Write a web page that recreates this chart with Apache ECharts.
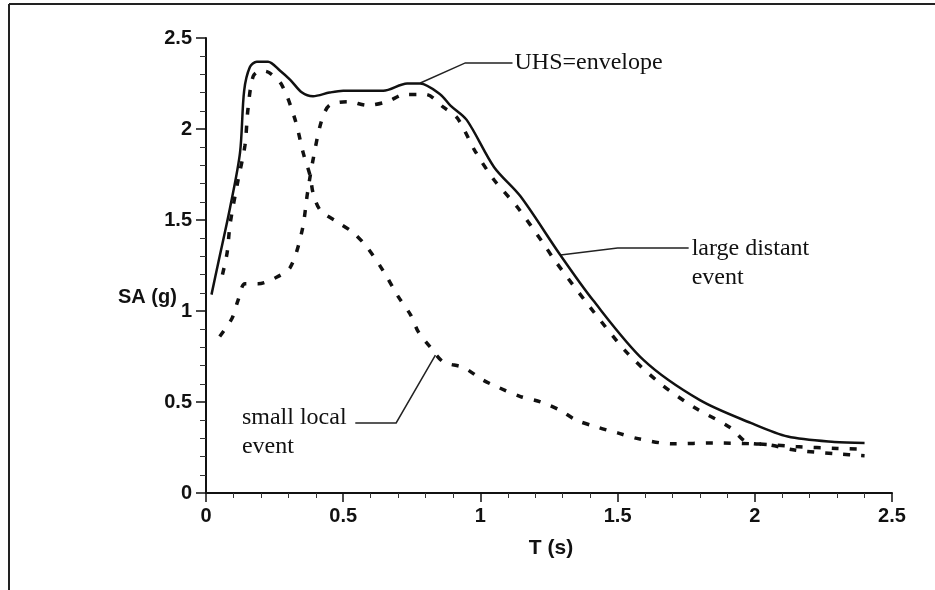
<!DOCTYPE html>
<html>
<head>
<meta charset="utf-8">
<title>UHS envelope</title>
<script src="https://cdn.jsdelivr.net/npm/echarts@6/dist/echarts.min.js"></script>
<style>
  html, body { margin: 0; padding: 0; background: #fff; }
  #chart { width: 935px; height: 590px; }
</style>
</head>
<body>
<div id="chart"></div>
<script>
// periods T (s) and spectral accelerations SA (g)
var uhsT = [0.02, 0.044, 0.088, 0.124, 0.139, 0.16, 0.185, 0.226, 0.27, 0.307, 0.35, 0.39, 0.45, 0.5, 0.573, 0.646, 0.733, 0.78, 0.854, 0.89, 0.95, 1.05, 1.146, 1.29, 1.41, 1.595, 1.8, 1.985, 2.12, 2.29, 2.4];
var uhsSA = [1.09, 1.26, 1.57, 1.87, 2.21, 2.34, 2.37, 2.37, 2.32, 2.27, 2.2, 2.18, 2.2, 2.21, 2.21, 2.21, 2.25, 2.25, 2.19, 2.13, 2.05, 1.79, 1.63, 1.31, 1.06, 0.73, 0.51, 0.385, 0.31, 0.28, 0.275];

var largeT = [0.05, 0.095, 0.117, 0.142, 0.19, 0.25, 0.307, 0.35, 0.37, 0.39, 0.42, 0.45, 0.52, 0.587, 0.66, 0.726, 0.8, 0.865, 0.916, 0.98, 1.05, 1.135, 1.23, 1.27, 1.4, 1.535, 1.657, 1.78, 1.91, 1.97, 2.05, 2.15, 2.3, 2.4];
var largeSA = [0.86, 0.96, 1.06, 1.15, 1.15, 1.18, 1.24, 1.44, 1.65, 1.83, 2.04, 2.13, 2.15, 2.13, 2.15, 2.19, 2.19, 2.12, 2.06, 1.88, 1.72, 1.57, 1.37, 1.28, 1.02, 0.77, 0.6, 0.47, 0.36, 0.28, 0.265, 0.235, 0.215, 0.205];

var smallT = [0.06, 0.077, 0.088, 0.117, 0.142, 0.153, 0.172, 0.2, 0.23, 0.277, 0.325, 0.354, 0.38, 0.39, 0.416, 0.478, 0.537, 0.587, 0.646, 0.7, 0.745, 0.774, 0.818, 0.865, 0.938, 1.01, 1.066, 1.146, 1.22, 1.29, 1.35, 1.43, 1.5, 1.57, 1.7, 1.85, 2.0, 2.15, 2.3, 2.4];
var smallSA = [1.2, 1.32, 1.48, 1.72, 1.91, 2.11, 2.29, 2.32, 2.31, 2.24, 2.05, 1.87, 1.74, 1.65, 1.555, 1.49, 1.43, 1.35, 1.22, 1.08, 0.98, 0.885, 0.8, 0.72, 0.69, 0.62, 0.58, 0.53, 0.5, 0.455, 0.4, 0.36, 0.33, 0.3, 0.27, 0.275, 0.27, 0.255, 0.245, 0.24];

// tick values on both axes
var tTicks = [0, 0.5, 1, 1.5, 2, 2.5];
var saTicks = [0, 0.5, 1, 1.5, 2, 2.5];

// annotation leaders, in data units (T, SA)
var uhsLeader = [[0.781, 2.253], [0.945, 2.363], [1.117, 2.363]];
var largeLeader = [[1.292, 1.308], [1.5, 1.346], [1.759, 1.346]];
var smallLeader = [[0.544, 0.385], [0.693, 0.385], [0.836, 0.758]];

function zip(xs, ys) {
  return xs.map(function (x, i) { return [x, ys[i]]; });
}

var chart = echarts.init(document.getElementById('chart'));

var numFont = {
  fontFamily: 'Liberation Sans, Arial, sans-serif',
  fontWeight: 'bold',
  fontSize: 20,
  color: '#111'
};

var option = {
  animation: false,
  backgroundColor: '#fff',
  grid: {
    left: 206,
    right: 43,
    top: 38,
    bottom: 97
  },
  xAxis: {
    type: 'value',
    min: tTicks[0],
    max: tTicks[tTicks.length - 1],
    interval: 0.5,
    axisLine: { show: true, onZero: false, lineStyle: { color: '#111', width: 2 } },
    axisTick: { show: true, inside: false, length: 9, lineStyle: { color: '#111', width: 1.5 } },
    minorTick: { show: true, splitNumber: 5, length: 5, lineStyle: { color: '#333', width: 1 } },
    splitLine: { show: false },
    axisLabel: Object.assign({ margin: 13, formatter: function (v) { return String(v); } }, numFont)
  },
  yAxis: {
    type: 'value',
    min: saTicks[0],
    max: saTicks[saTicks.length - 1],
    interval: 0.5,
    axisLine: { show: true, onZero: false, lineStyle: { color: '#111', width: 2 } },
    axisTick: { show: true, inside: false, length: 10, lineStyle: { color: '#111', width: 1.5 } },
    minorTick: { show: true, splitNumber: 5, length: 6, lineStyle: { color: '#333', width: 1 } },
    splitLine: { show: false },
    axisLabel: Object.assign({ margin: 14, formatter: function (v) { return String(v); } }, numFont)
  },
  series: [
    {
      name: 'UHS=envelope',
      type: 'line',
      data: zip(uhsT, uhsSA),
      smooth: 0.3,
      showSymbol: false,
      lineStyle: { color: '#111', width: 2.5 },
      z: 3
    },
    {
      name: 'large distant event',
      type: 'line',
      data: zip(largeT, largeSA),
      smooth: 0.3,
      showSymbol: false,
      lineStyle: { color: '#111', width: 3.5, type: [7, 11] }
    },
    {
      name: 'small local event',
      type: 'line',
      data: zip(smallT, smallSA),
      smooth: 0.3,
      showSymbol: false,
      lineStyle: { color: '#111', width: 3.5, type: [7, 11] }
    }
  ]
};

chart.setOption(option);

// 标注引线和文字
function toPx(pts) {
  return pts.map(function (p) { return chart.convertToPixel({ gridIndex: 0 }, p); });
}

var serif = 'Liberation Serif, Times New Roman, serif';

function leader(pts) {
  return {
    type: 'polyline',
    shape: { points: toPx(pts) },
    style: { stroke: '#222', lineWidth: 1.5, fill: null },
    silent: true
  };
}

function note(pt, text) {
  var p = chart.convertToPixel({ gridIndex: 0 }, pt);
  return {
    type: 'text',
    x: p[0] + 2,
    y: p[1],
    style: {
      text: text,
      font: '24px ' + serif,
      fill: '#111',
      lineHeight: 29,
      verticalAlign: 'middle',
      align: 'left'
    },
    silent: true
  };
}

var smallText = chart.convertToPixel({ gridIndex: 0 }, [0.131, 0.41]);

chart.setOption({
  graphic: [
    // frame
    { type: 'line', shape: { x1: 9, y1: 4, x2: 935, y2: 4 }, style: { stroke: '#222', lineWidth: 2 } },
    { type: 'line', shape: { x1: 9, y1: 4, x2: 9, y2: 590 }, style: { stroke: '#222', lineWidth: 2 } },
    leader(uhsLeader),
    leader(largeLeader),
    leader(smallLeader),
    note(uhsLeader[2], 'UHS=envelope'),
    {
      type: 'text',
      x: chart.convertToPixel({ gridIndex: 0 }, largeLeader[2])[0] + 3,
      y: chart.convertToPixel({ gridIndex: 0 }, largeLeader[2])[1] - 14,
      style: { text: 'large distant\nevent', font: '24px ' + serif, fill: '#111', lineHeight: 29, verticalAlign: 'top' },
      silent: true
    },
    {
      type: 'text',
      x: smallText[0],
      y: smallText[1] - 15,
      style: { text: 'small local\nevent', font: '24px ' + serif, fill: '#111', lineHeight: 29, verticalAlign: 'top' },
      silent: true
    },
    {
      type: 'text',
      x: 118,
      y: 297,
      style: { text: 'SA (g)', font: 'bold 20px Liberation Sans, Arial, sans-serif', fill: '#111', verticalAlign: 'middle' },
      silent: true
    },
    {
      type: 'text',
      x: 551,
      y: 548,
      style: { text: 'T (s)', font: 'bold 21px Liberation Sans, Arial, sans-serif', fill: '#111', align: 'center', verticalAlign: 'middle' },
      silent: true
    }
  ]
});
</script>
</body>
</html>
